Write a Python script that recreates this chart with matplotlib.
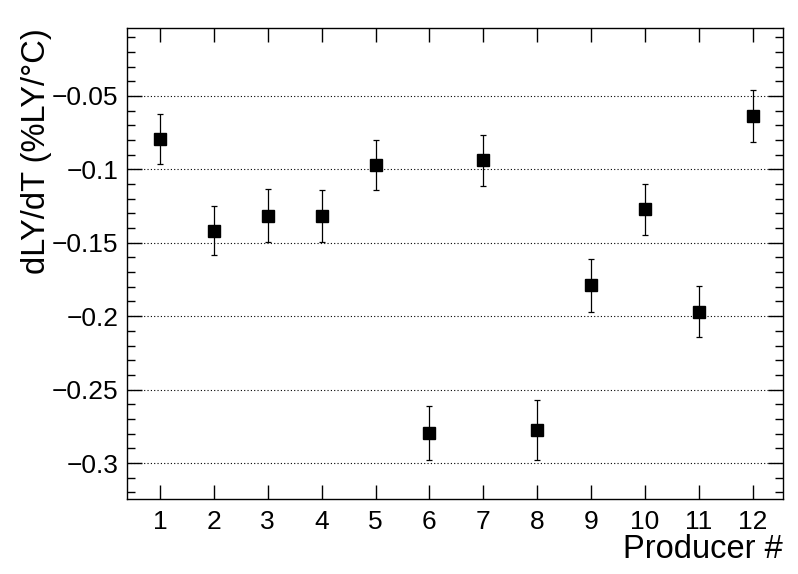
import matplotlib
matplotlib.use("Agg")
import matplotlib.pyplot as plt
from matplotlib.ticker import MultipleLocator, FuncFormatter

producer = [1, 2, 3, 4, 5, 6, 7, 8, 9, 10, 11, 12]
dlydt = [-0.0793, -0.1418, -0.1317, -0.1317, -0.0970, -0.2796,
         -0.0939, -0.2775, -0.1791, -0.1272, -0.1970, -0.0634]
err = [0.0173, 0.0167, 0.0180, 0.0177, 0.0170, 0.0184,
       0.0172, 0.0205, 0.0180, 0.0174, 0.0175, 0.0177]

plt.rcParams['font.family'] = ['Liberation Sans', 'DejaVu Sans']

fig = plt.figure(figsize=(7.98, 5.74), dpi=100)
ax = fig.add_axes([0.159, 0.1307, 0.822, 0.8206])

ax.errorbar(producer, dlydt, yerr=err, fmt='s', color='black', markersize=8.5,
            elinewidth=0.9, capsize=2.5, capthick=0.9, zorder=3)

ax.set_xlim(0.385, 12.56)
ax.set_ylim(-0.3245, -0.0037)

ax.xaxis.set_major_locator(MultipleLocator(1))
ax.yaxis.set_major_locator(MultipleLocator(0.05))
ax.yaxis.set_minor_locator(MultipleLocator(0.01))
ax.yaxis.set_major_formatter(FuncFormatter(lambda v, p: ('%g' % round(v, 4)).replace('-', '\u2212')))

ax.tick_params(axis='both', which='both', direction='in', top=True, right=True, labelsize=19)
ax.tick_params(axis='x', which='major', length=10, width=1, pad=8)
ax.tick_params(axis='y', which='major', length=11, width=1, pad=6)
ax.tick_params(axis='y', which='minor', length=6, width=1)
for s in ax.spines.values():
    s.set_linewidth(1)

ax.yaxis.grid(True, which='major', linestyle=(0, (1, 2)), color='black', linewidth=0.8)
ax.set_axisbelow(True)

ax.set_xlabel('Producer #', fontsize=23.5, loc='right', labelpad=0)
ax.set_ylabel('dLY/dT (%LY/\u00b0C)', fontsize=23.5, loc='top', labelpad=0)

fig.savefig('out.png', dpi=100)
